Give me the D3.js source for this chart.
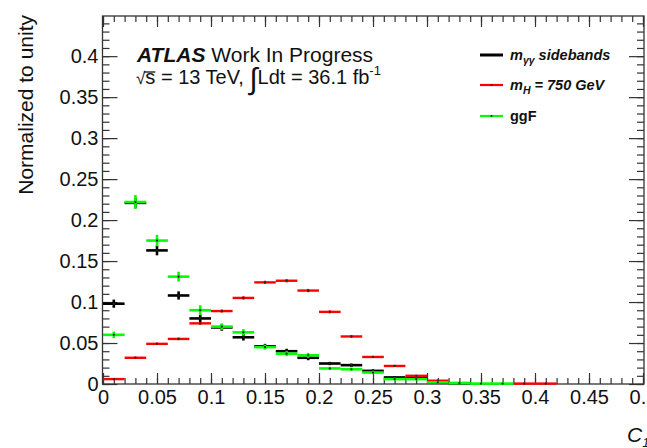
<!DOCTYPE html>
<html>
<head>
<meta charset="utf-8">
<script src="https://cdn.jsdelivr.net/npm/d3@7"></script>
<style>
  html, body { margin: 0; padding: 0; background: #fff; }
  svg { display: block; font-family: "Liberation Sans", Arial, Helvetica, sans-serif; }
</style>
</head>
<body>
<svg id="chart" width="647" height="448"></svg>
<script>
// Bin centres of the C1 histogram (bin width 0.02)
const binCenters = [0.01, 0.03, 0.05, 0.07, 0.09, 0.11, 0.13, 0.15, 0.17, 0.19,
                    0.21, 0.23, 0.25, 0.27, 0.29, 0.31, 0.33, 0.35, 0.37, 0.39, 0.41];
const binWidth = 0.02;

// Normalised contents per sample (null = empty bin, not drawn)
const sidebands = [0.098, 0.221, 0.163, 0.108, 0.080, 0.069, 0.057, 0.046, 0.040, 0.032,
                   0.025, 0.023, 0.016, 0.008, 0.007, 0.002, 0.001, null, null, null, null];
const sidebandsErr = [0.005, 0.006, 0.006, 0.005, 0.005, 0.004, 0.004, 0.003, 0.003, 0.003,
                      0.002, 0.002, 0.002, 0.0015, 0.0015, 0.001, 0.001, 0, 0, 0, 0];

const signal750 = [0.006, 0.032, 0.049, 0.055, 0.074, 0.089, 0.105, 0.124, 0.126, 0.114,
                   0.088, 0.058, 0.033, 0.022, 0.010, 0.004, null, null, null, 0.0005, 0.0005];
const signal750Err = [0.001, 0.0015, 0.0015, 0.0015, 0.0018, 0.0018, 0.002, 0.002, 0.002, 0.002,
                      0.0018, 0.0015, 0.0012, 0.001, 0.0008, 0.0005, 0, 0, 0, 0.0003, 0.0003];

const ggF = [0.060, 0.222, 0.175, 0.131, 0.090, 0.070, 0.063, 0.045, 0.037, 0.035,
             0.019, 0.018, 0.014, 0.006, 0.006, 0.002, 0.001, 0.0005, 0.0005, null, null];
const ggFErr = [0.004, 0.0085, 0.007, 0.006, 0.006, 0.004, 0.004, 0.003, 0.003, 0.003,
                0.002, 0.002, 0.002, 0.0015, 0.0015, 0.001, 0.001, 0.0005, 0.0005, 0, 0];

// Axis ticks
const xMajorTicks = [0, 0.05, 0.1, 0.15, 0.2, 0.25, 0.3, 0.35, 0.4, 0.45, 0.5];
const xTickLabels = ["0", "0.05", "0.1", "0.15", "0.2", "0.25", "0.3", "0.35", "0.4", "0.45", "0.5"];
const yMajorTicks = [0, 0.05, 0.1, 0.15, 0.2, 0.25, 0.3, 0.35, 0.4];
const yTickLabels = ["0", "0.05", "0.1", "0.15", "0.2", "0.25", "0.3", "0.35", "0.4"];

const svg = d3.select("#chart");
const frameLeft = 102.5, frameRight = 644, frameTop = 16, frameBottom = 384;

const x = d3.scaleLinear().domain([0, 0.5]).range([frameLeft + 0.5, frameRight - 1]);
const y = d3.scaleLinear().domain([0, 0.449]).range([frameBottom, frameTop]);

const xMinor = d3.range(0, 0.5001, 0.01).map(v => +v.toFixed(2));
const yMinor = d3.range(0, 0.4491, 0.01).map(v => +v.toFixed(2));

function styleAxis(g) {
  g.select(".domain").remove();
  g.selectAll(".tick line").attr("stroke", "#333").attr("stroke-width", 1.2);
  g.selectAll(".tick text").attr("fill", "#111").attr("font-size", 20)
    .attr("font-family", "Liberation Sans, Arial, sans-serif");
}

// Bottom axis (ticks point into the frame)
svg.append("g").attr("transform", `translate(0,${frameBottom})`)
  .call(d3.axisBottom(x).tickValues(xMinor).tickSize(-6).tickFormat(""))
  .call(styleAxis);
svg.append("g").attr("transform", `translate(0,${frameBottom})`)
  .call(d3.axisBottom(x).tickValues(xMajorTicks).tickSize(-11).tickPadding(6)
    .tickFormat((d, i) => xTickLabels[i]))
  .call(styleAxis);
// Top axis
svg.append("g").attr("transform", `translate(0,${frameTop})`)
  .call(d3.axisTop(x).tickValues(xMinor).tickSize(-6).tickFormat(""))
  .call(styleAxis);
svg.append("g").attr("transform", `translate(0,${frameTop})`)
  .call(d3.axisTop(x).tickValues(xMajorTicks).tickSize(-11).tickFormat(""))
  .call(styleAxis);
// Left axis
svg.append("g").attr("transform", `translate(${frameLeft},0)`)
  .call(d3.axisLeft(y).tickValues(yMinor).tickSize(-7).tickFormat(""))
  .call(styleAxis);
svg.append("g").attr("transform", `translate(${frameLeft},0)`)
  .call(d3.axisLeft(y).tickValues(yMajorTicks).tickSize(-15).tickPadding(4)
    .tickFormat((d, i) => yTickLabels[i]))
  .call(styleAxis);
// Right axis
svg.append("g").attr("transform", `translate(${frameRight},0)`)
  .call(d3.axisRight(y).tickValues(yMinor).tickSize(-7).tickFormat(""))
  .call(styleAxis);
svg.append("g").attr("transform", `translate(${frameRight},0)`)
  .call(d3.axisRight(y).tickValues(yMajorTicks).tickSize(-15).tickFormat(""))
  .call(styleAxis);

// Frame
svg.append("rect")
  .attr("x", frameLeft).attr("y", frameTop)
  .attr("width", frameRight - frameLeft).attr("height", frameBottom - frameTop)
  .attr("fill", "none").attr("stroke", "#333").attr("stroke-width", 1.3);

// Histograms drawn as horizontal bin bars with vertical error bars
function drawHist(values, errs, color, width) {
  const g = svg.append("g");
  binCenters.forEach((c, i) => {
    const v = values[i];
    if (v === null) return;
    g.append("line")
      .attr("x1", x(c - binWidth / 2)).attr("x2", x(c + binWidth / 2))
      .attr("y1", y(v)).attr("y2", y(v))
      .attr("stroke", color).attr("stroke-width", width);
    if (errs[i] > 0) {
      g.append("line")
        .attr("x1", x(c)).attr("x2", x(c))
        .attr("y1", y(v - errs[i])).attr("y2", y(v + errs[i]))
        .attr("stroke", color).attr("stroke-width", width);
    }
    g.append("circle").attr("cx", x(c)).attr("cy", y(v)).attr("r", 1.1).attr("fill", "#222");
  });
}
drawHist(sidebands, sidebandsErr, "#000000", 2.6);
drawHist(signal750, signal750Err, "#ff0000", 2.4);
drawHist(ggF, ggFErr, "#00ff00", 2.6);

// Axis titles
svg.append("text")
  .attr("transform", "translate(33,15) rotate(-90)")
  .attr("text-anchor", "end")
  .attr("font-size", 21).attr("fill", "#111")
  .text("Normalized to unity");

const xt = svg.append("text").attr("x", 627).attr("y", 442).attr("fill", "#111")
  .attr("font-size", 21).attr("font-style", "italic");
xt.append("tspan").text("C");
xt.append("tspan").attr("font-size", 13).attr("dy", 5).text("1");

// ATLAS label
const t1 = svg.append("text").attr("x", 137).attr("y", 62).attr("font-size", 21).attr("fill", "#111");
t1.append("tspan").attr("font-weight", "bold").attr("font-style", "italic").text("ATLAS");
t1.append("tspan").text(" Work In Progress");

const t2 = svg.append("text").attr("x", 136).attr("y", 84).attr("font-size", 20).attr("fill", "#111");
t2.append("tspan").attr("font-size", 17).text("√");
t2.append("tspan").text("s");
t2.append("tspan").text(" = 13 TeV, ");
t2.append("tspan").attr("font-size", 30).attr("dy", 5).attr("font-weight", "100").text("∫");
t2.append("tspan").attr("dy", -5).text("Ldt = 36.1 fb");
t2.append("tspan").attr("font-size", 13).attr("dy", -9).text("-1");

// Bar of the square root over "s"
{
  const node = t2.node();
  const root = node.getExtentOfChar(0);
  const s = node.getExtentOfChar(1);
  svg.append("line")
    .attr("x1", root.x + root.width - 1.5).attr("x2", s.x + s.width)
    .attr("y1", 72).attr("y2", 72)
    .attr("stroke", "#111").attr("stroke-width", 1.3);
}

// Legend
const legend = [
  { color: "#000000", width: 3, main: "m", sub: "γγ", rest: " sidebands", italic: true },
  { color: "#ff0000", width: 2.2, main: "m", sub: "H", rest: " = 750 GeV", italic: true },
  { color: "#00ff00", width: 2.2, main: "ggF", sub: "", rest: "", italic: false }
];
const legendY = [55, 85, 116];
legend.forEach((d, i) => {
  const ly = legendY[i];
  svg.append("line").attr("x1", 480).attr("x2", 503).attr("y1", ly).attr("y2", ly)
    .attr("stroke", d.color).attr("stroke-width", d.width);
  if (i > 0) svg.append("circle").attr("cx", 491.5).attr("cy", ly).attr("r", 1).attr("fill", "#222");
  const t = svg.append("text").attr("x", 510).attr("y", ly + 5)
    .attr("font-size", 14.5).attr("font-weight", "bold").attr("fill", "#111")
    .attr("font-style", d.italic ? "italic" : "normal");
  t.append("tspan").text(d.main);
  if (d.sub) {
    t.append("tspan").attr("font-size", 10.5).attr("dy", 4).text(d.sub);
    t.append("tspan").attr("dy", -4).text(d.rest);
  }
});
</script>
</body>
</html>
